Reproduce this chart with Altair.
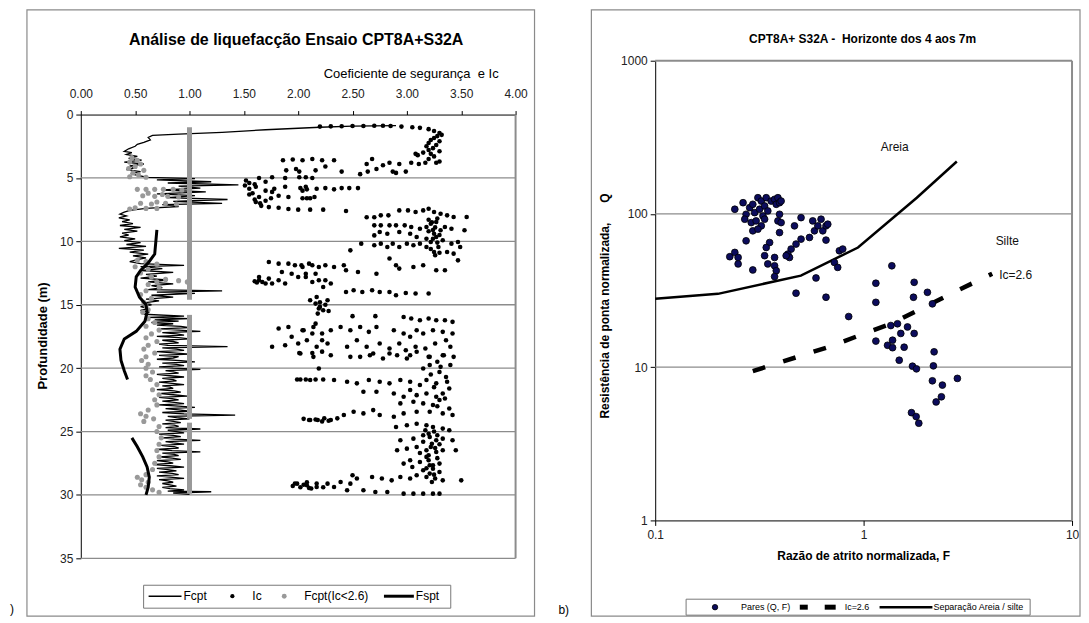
import altair as alt
import pandas as pd

# ---------------- Left panel data (depth m, value) ----------------
fcpt_pairs = [
    (0.87, 2.9), (0.92, 2.5), (1.0, 2.2), (1.2, 1.7), (1.4, 1.3), (1.55, 0.9), (1.65, 0.66),
    (1.8, 0.62), (2.0, 0.64), (2.2, 0.58), (2.35, 0.52), (2.5, 0.50), (2.7, 0.44), (2.9, 0.40),
    (3.0, 0.47), (3.15, 0.42), (3.3, 0.52), (3.45, 0.44), (3.6, 0.56), (3.75, 0.40), (3.9, 0.58),
    (4.05, 0.45), (4.2, 0.50), (4.35, 0.42), (4.5, 0.55), (4.65, 0.46), (4.8, 0.52), (4.95, 0.62),
    (5.05, 1.05), (5.15, 0.7), (5.3, 1.2), (5.4, 0.8), (5.55, 1.45), (5.65, 0.9), (5.8, 1.1),
    (5.95, 0.75), (6.1, 1.15), (6.25, 0.7), (6.4, 1.05), (6.55, 0.8), (6.7, 1.35), (6.85, 0.85),
    (7.0, 1.3), (7.1, 0.75), (7.25, 0.9), (7.4, 0.6), (7.55, 0.45), (7.7, 0.40), (7.85, 0.36),
    (8.0, 0.42), (8.15, 0.35), (8.3, 0.45), (8.45, 0.38), (8.6, 0.48), (8.75, 0.36), (8.9, 0.55),
    (9.05, 0.40), (9.2, 0.52), (9.35, 0.38), (9.5, 0.44), (9.65, 0.36), (9.8, 0.50), (9.95, 0.40),
    (10.1, 0.55), (10.25, 0.42), (10.4, 0.60), (10.55, 0.35), (10.7, 0.58), (10.85, 0.45),
    (11.0, 0.62), (11.15, 0.48), (11.3, 0.60), (11.45, 0.52), (11.6, 0.45), (11.75, 0.55),
    (11.9, 0.95), (12.0, 0.55), (12.15, 0.75), (12.3, 0.55), (12.45, 0.85), (12.6, 0.6),
    (12.75, 0.7), (12.9, 0.55), (13.05, 0.8), (13.2, 0.62), (13.35, 0.85), (13.5, 0.65),
    (13.65, 0.75), (13.8, 0.62), (13.9, 1.3), (14.0, 0.7), (14.1, 1.05), (14.25, 0.65),
    (14.4, 0.85), (14.55, 0.6), (14.7, 0.72), (14.85, 0.58), (15.0, 0.65), (15.15, 0.55),
    (15.3, 0.62), (15.45, 0.55), (15.6, 0.62), (15.75, 0.58), (15.9, 0.95), (16.0, 0.62),
    (16.1, 1.0), (16.2, 0.68), (16.3, 0.9), (16.4, 0.65), (16.5, 0.85), (16.6, 0.7), (16.7, 0.92),
    (16.8, 1.0), (16.9, 0.72), (17.0, 0.9), (17.1, 1.1), (17.2, 0.75), (17.3, 0.88), (17.4, 0.95),
    (17.5, 0.7), (17.6, 0.9), (17.7, 1.0), (17.8, 0.75), (17.9, 0.85), (18.0, 0.9), (18.1, 0.72),
    (18.2, 0.8), (18.3, 1.35), (18.4, 0.75), (18.5, 0.88), (18.6, 0.95), (18.7, 0.7), (18.8, 0.85),
    (18.9, 1.0), (19.0, 0.72), (19.1, 0.9), (19.2, 0.85), (19.3, 0.7), (19.4, 0.92), (19.5, 1.05),
    (19.6, 0.75), (19.7, 0.88), (19.8, 0.95), (19.9, 0.72), (20.0, 0.85), (20.1, 1.1), (20.2, 0.78),
    (20.3, 0.85), (20.4, 0.9), (20.5, 0.7), (20.6, 0.82), (20.7, 0.95), (20.8, 0.75), (20.9, 0.85),
    (21.0, 0.88), (21.1, 0.72), (21.2, 0.84), (21.3, 0.95), (21.4, 0.75), (21.5, 0.82), (21.6, 0.85),
    (21.7, 0.7), (21.8, 0.86), (21.9, 0.92), (22.0, 0.74), (22.1, 0.85), (22.2, 0.98), (22.3, 0.72),
    (22.4, 0.84), (22.5, 0.9), (22.6, 0.75), (22.7, 0.86), (22.8, 0.95), (22.9, 0.72), (23.0, 0.9),
    (23.1, 1.05), (23.2, 0.78), (23.3, 0.9), (23.4, 1.0), (23.5, 0.75), (23.6, 0.95), (23.7, 1.42),
    (23.8, 0.8), (23.9, 0.88), (24.0, 1.0), (24.1, 0.78), (24.2, 0.85), (24.3, 0.92), (24.4, 0.75),
    (24.5, 0.86), (24.6, 0.9), (24.7, 0.78), (24.8, 1.1), (24.9, 0.8), (25.0, 0.88), (25.1, 0.95),
    (25.2, 0.72), (25.3, 0.85), (25.4, 0.92), (25.5, 0.75), (25.6, 0.86), (25.7, 1.1), (25.8, 0.78),
    (25.9, 0.85), (26.0, 0.95), (26.1, 0.74), (26.2, 0.86), (26.3, 0.9), (26.4, 0.7), (26.5, 0.84),
    (26.6, 1.1), (26.7, 0.75), (26.8, 0.86), (26.9, 0.9), (27.0, 0.72), (27.1, 0.84), (27.2, 0.92),
    (27.3, 0.7), (27.4, 0.8), (27.5, 0.85), (27.6, 0.68), (27.7, 0.82), (27.8, 0.95), (27.9, 0.7),
    (28.0, 0.8), (28.1, 0.88), (28.2, 0.72), (28.3, 0.84), (28.4, 0.9), (28.5, 0.7), (28.6, 0.82),
    (28.7, 0.95), (28.8, 0.72), (28.9, 0.8), (29.0, 0.85), (29.1, 0.75), (29.2, 0.82), (29.3, 0.88),
    (29.4, 0.75), (29.5, 0.82), (29.6, 0.95), (29.7, 0.8), (29.75, 1.2), (29.85, 0.85), (29.95, 1.0),
]

ic_pairs = [
    (0.95, 2.2), (0.93, 2.3), (0.92, 2.4), (0.9, 2.5), (0.9, 2.6), (0.88, 2.7), (0.88, 2.78),
    (0.9, 2.85), (0.95, 2.95), (1.0, 3.05), (1.05, 3.12), (1.15, 3.2), (1.3, 3.25), (1.45, 3.3),
    (1.6, 3.32), (1.7, 3.28), (1.85, 3.25), (2.0, 3.22), (2.1, 3.3), (2.25, 3.2), (2.4, 3.27),
    (2.5, 3.18), (2.65, 3.24), (2.8, 3.2), (2.9, 3.3), (3.0, 3.15), (3.1, 3.22), (3.2, 3.1), (3.3, 3.25),
    (3.6, 1.86), (3.55, 1.95), (3.6, 2.04), (3.5, 2.13), (3.6, 2.22), (4.4, 1.89), (4.3, 1.98),
    (4.5, 2.01), (4.4, 2.16), (4.1, 2.25), (4.95, 2.07), (3.6, 2.33), (4.5, 2.4), (4.7, 2.57),
    (3.9, 2.63), (3.5, 2.68), (4.5, 2.64), (4.3, 2.72), (4.0, 2.78), (3.8, 2.84), (4.5, 2.87),
    (3.9, 2.93), (4.5, 2.99), (3.8, 3.04), (3.1, 3.08), (3.9, 3.11), (3.8, 3.17), (3.8, 3.27),
    (4.6, 2.9), (3.5, 3.2), (3.7, 3.3),
    (5.8, 2.02), (5.9, 2.08), (5.8, 2.25), (5.9, 2.33), (5.8, 2.4), (5.8, 2.47), (5.8, 2.55),
    (6.6, 2.04), (6.6, 2.08), (6.6, 2.11), (7.5, 2.0), (7.5, 2.11), (7.5, 2.23), (7.6, 2.44),
    (5.2, 1.52), (5.0, 1.64), (4.95, 1.76), (5.0, 1.88), (4.95, 2.01), (5.0, 2.13), (5.6, 1.51),
    (5.85, 1.55), (5.7, 1.61), (6.2, 1.58), (6.5, 1.64), (6.8, 1.7), (6.9, 1.61), (7.2, 1.66),
    (7.3, 1.73), (7.35, 1.82), (7.45, 1.91), (5.85, 1.78), (6.1, 1.76), (6.4, 1.82), (6.5, 1.91),
    (6.0, 1.7), (6.0, 2.04), (5.7, 2.07), (5.7, 1.88), (6.5, 2.15), (5.85, 2.17), (5.4, 1.55),
    (5.5, 1.6), (6.3, 1.55), (6.7, 1.6), (7.0, 1.65), (5.3, 1.7), (6.6, 1.75),
    (8.1, 2.63), (8.1, 2.7), (7.95, 2.76), (7.95, 2.83), (7.56, 2.93), (7.56, 3.01), (7.69, 3.08),
    (7.56, 3.15), (7.43, 3.2), (7.69, 3.25), (7.83, 3.31), (7.95, 3.37), (8.08, 3.43), (8.08, 3.55),
    (8.74, 2.7), (8.74, 2.76), (8.74, 2.84), (8.74, 2.9), (8.74, 2.98), (8.87, 3.04), (9.0, 3.12),
    (8.87, 3.18), (8.61, 3.22), (8.48, 3.27), (9.13, 3.31), (8.87, 3.35), (9.0, 3.41), (9.13, 3.53),
    (9.4, 3.25), (9.66, 3.27), (9.92, 3.33), (10.44, 3.29), (10.84, 3.37), (10.97, 3.43), (11.5, 3.47),
    (10.84, 3.25), (10.44, 3.18), (10.18, 3.12), (10.31, 3.06), (10.18, 3.0), (10.44, 2.93),
    (10.18, 2.87), (10.44, 2.82), (10.18, 2.76), (10.31, 2.7), (10.18, 2.58), (10.71, 2.48),
    (9.79, 3.18), (10.05, 3.22), (10.18, 3.41), (10.05, 3.47), (10.44, 3.49), (9.66, 3.09),
    (9.4, 3.03), (9.27, 2.93), (9.4, 2.82), (9.27, 2.75), (9.53, 2.7), (8.3, 3.2), (8.5, 3.23),
    (8.9, 3.26), (9.2, 3.2), (9.5, 3.3), (9.8, 3.24), (10.1, 3.28), (10.6, 3.22), (10.9, 3.3),
    (11.1, 3.26), (9.1, 3.24), (8.2, 3.28),
    (11.63, 1.73), (11.76, 1.82), (11.76, 1.91), (11.89, 1.97), (12.02, 2.04), (11.89, 2.13),
    (12.02, 2.19), (13.07, 1.64), (13.2, 1.67), (13.33, 1.7), (12.94, 1.73), (12.81, 1.64),
    (13.33, 1.76), (13.07, 1.82), (13.33, 1.88), (12.55, 1.94), (12.81, 2.0), (12.55, 2.07),
    (13.2, 2.13), (13.07, 2.19), (13.6, 2.23), (12.42, 1.85), (13.15, 1.6), (13.25, 1.62),
    (11.89, 2.03), (11.76, 2.1), (11.89, 2.25), (12.02, 2.33), (11.89, 2.42), (12.28, 2.44),
    (12.42, 2.55), (12.55, 2.72), (11.36, 2.84), (11.89, 2.9), (12.15, 2.93), (12.02, 3.06),
    (11.89, 3.15), (12.28, 3.27), (12.28, 3.35), (12.81, 2.07), (12.55, 2.16), (13.07, 2.25),
    (13.33, 2.3), (14.0, 2.44), (13.86, 2.51), (14.0, 2.59), (13.86, 2.68), (14.0, 2.75),
    (14.0, 2.84), (14.25, 2.9), (14.07, 2.99), (14.12, 3.08), (14.12, 3.2), (14.65, 2.11),
    (14.91, 2.16), (15.17, 2.2), (15.44, 2.23), (14.39, 2.17), (14.65, 2.27), (15.7, 2.18),
    (14.8, 2.2), (15.0, 2.25), (15.3, 2.19), (15.5, 2.28),
    (15.9, 2.5), (15.9, 2.71), (15.96, 2.97), (16.09, 3.04), (16.22, 3.12), (16.09, 3.2),
    (16.22, 3.27), (16.22, 3.35), (16.35, 3.42), (17.01, 2.05), (16.75, 2.14), (17.27, 2.22),
    (17.01, 2.3), (16.75, 2.39), (17.01, 2.48), (16.75, 2.57), (17.14, 2.65), (16.75, 2.72),
    (17.01, 2.88), (17.27, 2.97), (17.53, 3.03), (17.01, 3.09), (17.27, 3.15), (17.01, 3.24),
    (17.14, 3.33), (17.27, 3.42), (17.8, 2.08), (18.32, 2.17), (18.06, 2.27), (18.32, 2.45),
    (17.8, 2.54), (18.32, 2.63), (18.06, 2.75), (18.45, 2.84), (18.06, 2.93), (18.59, 2.99),
    (18.32, 3.08), (18.45, 3.17), (18.06, 3.26), (17.8, 3.36), (18.32, 3.4), (18.85, 2.02),
    (19.11, 2.14), (18.98, 2.3), (19.11, 2.48), (18.98, 2.66), (18.85, 2.84), (18.98, 3.03),
    (19.11, 3.2), (18.98, 3.33), (16.88, 1.82), (16.75, 1.91), (17.01, 2.04), (16.49, 2.16),
    (18.32, 1.76), (18.19, 1.88), (18.06, 2.0), (17.27, 2.13), (17.8, 2.22), (17.53, 1.94),
    (18.8, 2.01), (18.8, 2.13), (18.7, 2.22),
    (19.11, 2.57), (18.85, 2.69), (19.24, 2.78), (18.98, 2.91), (19.24, 3.0), (18.71, 3.09),
    (19.11, 3.21), (18.98, 3.34), (19.11, 3.43), (19.76, 3.4), (19.9, 3.31), (19.76, 3.21),
    (20.03, 3.15), (20.89, 2.02), (20.94, 2.11), (20.89, 2.23), (20.94, 2.33), (21.07, 2.45),
    (21.2, 2.54), (20.94, 2.65), (21.07, 2.75), (21.2, 2.84), (20.94, 2.94), (21.07, 3.03),
    (21.33, 3.12), (20.94, 3.18), (21.2, 3.27), (21.07, 3.37), (21.86, 2.6), (21.86, 2.72),
    (22.0, 2.88), (22.26, 2.97), (21.73, 3.03), (22.13, 3.09), (22.0, 3.18), (22.26, 3.27),
    (22.0, 3.33), (21.6, 3.39), (22.78, 2.94), (22.65, 3.06), (22.78, 3.15), (22.91, 3.24),
    (22.52, 3.3), (23.18, 3.39), (23.7, 3.42), (23.57, 3.33), (23.44, 3.21), (23.44, 3.09),
    (23.57, 2.97), (23.83, 2.88), (23.7, 2.75), (23.31, 2.69), (23.57, 2.6), (23.44, 2.51),
    (23.7, 2.42), (24.09, 2.3), (24.09, 2.18), (24.09, 2.11), (23.96, 2.24), (23.96, 2.36),
    (20.89, 1.99), (20.9, 2.07), (20.9, 2.16), (20.03, 2.19), (24.09, 2.1), (24.05, 2.16),
    (24.2, 2.22), (24.0, 2.05), (24.15, 2.28), (20.3, 3.3), (20.5, 3.22), (20.7, 3.36),
    (21.5, 3.25), (22.4, 3.35), (23.0, 3.28), (19.5, 3.28),
    (24.64, 2.9), (24.51, 3.0), (24.38, 3.09), (24.51, 3.18), (24.64, 3.24), (24.77, 3.33),
    (24.9, 3.39), (25.69, 2.94), (25.56, 3.06), (25.3, 3.15), (25.43, 3.21), (25.69, 3.27),
    (25.56, 3.33), (25.69, 3.42), (26.48, 2.91), (26.35, 3.0), (26.22, 3.09), (26.48, 3.18),
    (26.22, 3.22), (26.61, 3.27), (26.48, 3.33), (26.48, 3.45), (27.53, 2.97), (27.27, 3.03),
    (27.4, 3.12), (27.27, 3.2), (27.66, 3.24), (27.53, 3.3), (28.06, 3.15), (28.32, 3.21),
    (27.93, 3.24), (28.19, 3.3), (28.45, 3.09), (28.58, 3.18), (28.71, 3.26), (27.8, 3.05),
    (26.87, 3.2), (24.9, 3.17), (25.17, 3.2), (25.96, 3.23), (27.0, 3.18), (27.66, 3.21),
    (28.98, 3.23), (28.85, 3.5), (28.71, 2.77), (28.85, 2.86), (28.58, 2.94), (28.71, 3.03),
    (28.85, 3.33), (25.0, 3.25), (25.8, 3.15), (26.0, 3.3), (26.7, 3.12), (27.1, 3.28),
    (27.9, 3.18), (28.4, 3.25), (26.3, 3.26), (25.3, 3.28),
    (29.11, 1.99), (29.24, 2.08), (29.37, 2.17), (29.11, 2.27), (29.37, 2.33), (29.63, 2.45),
    (28.45, 2.5), (28.71, 2.54), (29.63, 2.6), (28.58, 2.68), (29.77, 2.71), (29.77, 2.82),
    (29.9, 2.97), (29.9, 3.06), (29.9, 3.15), (29.9, 3.24), (29.9, 3.3), (29.11, 2.48),
    (28.98, 2.39), (29.1, 1.97), (29.4, 2.02), (29.0, 2.08), (29.5, 2.12), (29.1, 2.17),
    (29.4, 2.23), (29.3, 1.95), (29.2, 2.05), (29.45, 2.1),
]

gray_pairs = [
    (3.4, 0.47), (3.6, 0.52), (3.75, 0.45), (3.9, 0.55), (4.1, 0.5), (4.25, 0.44), (4.4, 0.58),
    (4.6, 0.48), (4.75, 0.53), (4.9, 0.45), (4.95, 0.6),
    (5.9, 0.52), (5.9, 0.6), (5.9, 0.68), (5.9, 0.76), (5.9, 0.85), (5.95, 0.93), (6.2, 0.62),
    (6.3, 0.75), (6.4, 0.57), (6.45, 0.68), (6.45, 0.8), (6.5, 0.9), (6.9, 0.7), (7.0, 0.55),
    (7.05, 0.65), (7.0, 0.78), (7.05, 0.88), (7.35, 0.5), (7.4, 0.6), (7.4, 0.7), (7.45, 0.45),
    (11.5, 0.52), (11.6, 0.6), (11.8, 0.7), (12.0, 0.5), (12.2, 0.62), (12.5, 0.55), (12.8, 0.65),
    (13.0, 0.78), (13.1, 0.9), (13.2, 0.98), (13.2, 0.7), (13.4, 0.62), (13.6, 0.72), (13.9, 0.6),
    (14.2, 0.55), (14.5, 0.65), (14.8, 0.58), (15.1, 0.6), (15.4, 0.62), (15.6, 0.57),
    (16.1, 0.62), (16.4, 0.68), (16.7, 0.6), (17.0, 0.72), (17.3, 0.65), (17.6, 0.6), (17.9, 0.7),
    (18.2, 0.62), (18.5, 0.58), (18.8, 0.68), (19.1, 0.6), (19.4, 0.56), (19.7, 0.62), (20.0, 0.6),
    (20.3, 0.66), (20.6, 0.6), (20.9, 0.64), (21.3, 0.7), (21.7, 0.66), (22.1, 0.72), (22.5, 0.68),
    (22.9, 0.7), (23.3, 0.62), (23.6, 0.55), (23.8, 0.6), (24.0, 0.67), (24.2, 0.58), (24.6, 0.72),
    (25.0, 0.7), (25.5, 0.74), (26.0, 0.72), (26.5, 0.7), (27.0, 0.72), (27.5, 0.68), (28.0, 0.66),
    (28.4, 0.6), (28.6, 0.52), (28.8, 0.56), (29.0, 0.62), (29.2, 0.55), (29.4, 0.6), (29.6, 0.66),
    (29.8, 0.72),
]

# Fcpt(Ic<2.6) values sitting on FS = 1.00 (depth intervals)
cap_top = [1.0, 15.8, 24.3]
cap_bottom = [14.6, 24.0, 29.9]
cap_value = [1.0, 1.0, 1.0]

fspt_seg1 = [(9.1, 0.70), (11.0, 0.68), (11.7, 0.62), (12.3, 0.55), (12.8, 0.51), (13.6, 0.50),
             (14.4, 0.54), (15.0, 0.60), (15.6, 0.61), (16.3, 0.59), (17.1, 0.51), (17.7, 0.40),
             (18.5, 0.36), (19.4, 0.37), (20.2, 0.40), (20.9, 0.43)]
fspt_seg2 = [(25.5, 0.47), (26.2, 0.52), (27.0, 0.57), (27.8, 0.61), (28.6, 0.63), (29.4, 0.62),
             (30.0, 0.60)]

depth_ticks = [0, 5, 10, 15, 20, 25, 30, 35]
depth_grid = [5, 10, 15, 20, 25, 30, 35]
fs_ticks = [0, 0.5, 1.0, 1.5, 2.0, 2.5, 3.0, 3.5, 4.0]

# ---------------- Right panel data (F, Q) ----------------
pares_pairs = [
    (0.241, 107.3), (0.264, 118.4), (0.273, 99.5), (0.284, 109.9), (0.294, 115.6), (0.300, 102.0),
    (0.311, 127.6), (0.317, 107.3), (0.323, 121.4), (0.329, 97.0), (0.335, 112.7), (0.341, 127.6),
    (0.347, 104.6), (0.360, 121.4), (0.374, 124.6), (0.381, 115.6), (0.388, 127.6), (0.395, 118.4),
    (0.402, 121.4), (0.269, 92.4), (0.289, 87.8), (0.305, 90.1), (0.323, 83.6), (0.335, 92.4),
    (0.294, 77.6), (0.311, 79.6), (0.388, 90.1), (0.395, 99.5), (0.402, 87.8), (0.466, 83.6),
    (0.501, 94.6), (0.570, 90.1), (0.581, 77.6), (0.603, 83.6), (0.625, 92.4), (0.637, 77.6),
    (0.660, 83.6), (0.673, 85.7), (0.550, 70.2), (0.501, 68.5), (0.474, 63.6), (0.449, 59.0),
    (0.433, 54.7), (0.441, 52.0), (0.425, 53.4), (0.395, 75.6), (0.354, 65.1), (0.341, 60.4),
    (0.335, 53.4), (0.347, 47.2), (0.374, 52.0), (0.374, 45.9), (0.381, 42.6), (0.374, 39.0),
    (0.273, 66.8), (0.294, 43.1), (0.228, 52.6), (0.241, 56.1), (0.250, 52.0), (0.250, 47.2),
    (0.660, 67.5), (0.765, 57.5), (0.794, 59.0), (0.724, 48.3), (0.751, 44.8), (0.591, 38.2),
    (0.474, 30.4), (0.660, 28.6), (0.848, 21.4), (1.145, 35.3), (1.145, 26.5), (1.366, 45.9),
    (1.748, 35.8), (1.735, 28.6), (1.351, 18.7), (1.454, 19.2), (1.508, 16.6), (1.624, 18.3),
    (1.748, 16.6), (1.145, 14.8), (1.303, 13.9), (1.377, 15.0), (1.565, 13.5), (2.024, 30.8),
    (2.138, 25.9), (1.377, 13.4), (1.482, 11.1), (2.179, 12.6), (2.162, 10.2), (1.716, 10.15),
    (1.793, 9.75), (2.138, 8.15), (2.388, 7.64), (2.818, 8.45), (2.362, 6.41), (2.228, 5.93),
    (1.697, 5.05), (1.787, 4.76), (1.840, 4.31),
]
sep_f = [0.1, 0.2, 0.5, 0.94, 1.8, 2.8]
sep_q = [28.0, 30.1, 39.6, 60.4, 127.6, 220.0]
ic26_f = [0.294, 0.673, 1.351, 2.818, 4.14]
ic26_q = [9.42, 13.5, 19.2, 31.6, 40.7]
q_ticks = [1, 10, 100, 1000]
f_ticks = [0.1, 1, 10]
q_grid = [10, 100]
zone_f = [1.41, 4.89]
zone_q = [275.0, 66.8]
zone_t = ["Areia", "Silte"]

FONT = "Liberation Sans"
NB = "\u00a0"

# ---------------- Left panel ----------------
L_x = alt.Scale(domain=[0, 4], range=[73, 509], zero=False, nice=False)
L_y = alt.Scale(domain=[0, 35], range=[106, 551], zero=False, nice=False)
axLx = alt.Axis(orient="top", offset=-106, values=fs_ticks, format=".2f", title=None, grid=False,
                labelFontSize=12, labelColor="#222", labelFont=FONT, tickColor="#000", domainColor="#000",
                tickSize=4, labelPadding=10, labelOverlap=False, labelFlush=False)
axLy = alt.Axis(orient="left", offset=-73, values=depth_ticks, title=None, grid=False,
                labelFontSize=12, labelColor="#222", labelFont=FONT, tickColor="#000", domainColor="#000",
                tickSize=5, labelPadding=3, labelOverlap=False, labelFlush=False)


def LX(f="x"):
    return alt.X(f"{f}:Q", scale=L_x, axis=axLx)


def LY(f="y"):
    return alt.Y(f"{f}:Q", scale=L_y, axis=axLy)


df_fcpt = pd.DataFrame({"y": [p[0] for p in fcpt_pairs], "x": [p[1] for p in fcpt_pairs],
                        "i": list(range(len(fcpt_pairs)))})
df_ic = pd.DataFrame({"y": [p[0] for p in ic_pairs], "x": [p[1] for p in ic_pairs]})
df_gray = pd.DataFrame({"y": [p[0] for p in gray_pairs], "x": [p[1] for p in gray_pairs]})
df_cap = pd.DataFrame({"x": cap_value, "y": cap_top, "y2": cap_bottom})
fs_rows = [(d, v, 1) for d, v in fspt_seg1] + [(d, v, 2) for d, v in fspt_seg2]
df_fspt = pd.DataFrame({"y": [r[0] for r in fs_rows], "x": [r[1] for r in fs_rows],
                        "seg": [r[2] for r in fs_rows], "i": list(range(len(fs_rows)))})
df_lgrid = pd.DataFrame({"y": depth_grid, "x": [0] * len(depth_grid), "x2": [4] * len(depth_grid)})
df_lright = pd.DataFrame({"x": [4], "y": [0], "y2": [35]})

l_grid = alt.Chart(df_lgrid).mark_rule(color="#8c8c8c", strokeWidth=1.3).encode(x=LX(), x2="x2:Q", y=LY())
l_right = alt.Chart(df_lright).mark_rule(color="#8c8c8c", strokeWidth=2).encode(x=LX(), y=LY(), y2="y2:Q")
l_fcpt = alt.Chart(df_fcpt).mark_line(color="#000", strokeWidth=1.3).encode(x=LX(), y=LY(), order="i:Q")
l_ic = alt.Chart(df_ic).mark_circle(color="#000", size=21, opacity=1).encode(x=LX(), y=LY())
l_gray = alt.Chart(df_gray).mark_circle(color="#999", size=26, opacity=1).encode(x=LX(), y=LY())
l_cap = alt.Chart(df_cap).mark_rule(color="#999", strokeWidth=5).encode(x=LX(), y=LY(), y2="y2:Q")
l_fspt = alt.Chart(df_fspt).mark_line(color="#000", strokeWidth=3).encode(
    x=LX(), y=LY(), detail="seg:N", order="i:Q")

left = alt.layer(l_grid, l_right, l_fcpt, l_ic, l_gray, l_cap, l_fspt)

# ---------------- Right panel ----------------
H = 611
R_x = alt.Scale(type="log", domain=[0.1, 10], range=[649, 1067], nice=False)
R_y = alt.Scale(type="log", domain=[1, 1000], range=[513, 52], nice=False)
axRx = alt.Axis(orient="bottom", offset=-(H - 513), values=f_ticks, format="~g", title=None, grid=False,
                labelFontSize=12, labelColor="#222", labelFont=FONT, tickColor="#000", domainColor="#000",
                tickSize=5, labelPadding=4, labelOverlap=False, labelFlush=False)
axRy = alt.Axis(orient="left", offset=-649, values=q_ticks, format="~g", title=None, grid=False,
                labelFontSize=12, labelColor="#222", labelFont=FONT, tickColor="#000", domainColor="#000",
                tickSize=5, labelPadding=3, labelOverlap=False, labelFlush=False)


def RX(f="x"):
    return alt.X(f"{f}:Q", scale=R_x, axis=axRx)


def RY(f="y"):
    return alt.Y(f"{f}:Q", scale=R_y, axis=axRy)


df_pares = pd.DataFrame({"x": [p[0] for p in pares_pairs], "y": [p[1] for p in pares_pairs]})
df_sep = pd.DataFrame({"x": sep_f, "y": sep_q, "i": list(range(len(sep_f)))})
df_ic26 = pd.DataFrame({"x": ic26_f, "y": ic26_q, "i": list(range(len(ic26_f)))})
df_rgrid = pd.DataFrame({"y": q_grid, "x": [0.1] * len(q_grid), "x2": [10] * len(q_grid)})
df_rtop = pd.DataFrame({"y": [1000], "x": [0.1], "x2": [10]})
df_rright = pd.DataFrame({"x": [10], "y": [1], "y2": [1000]})
df_rlabels = pd.DataFrame({"x": zone_f, "y": zone_q, "t": zone_t})
df_iclab = pd.DataFrame({"x": [4.47], "y": [40.0], "t": ["Ic=2.6"]})

r_grid = alt.Chart(df_rgrid).mark_rule(color="#8c8c8c", strokeWidth=1.3).encode(x=RX(), x2="x2:Q", y=RY())
r_top = alt.Chart(df_rtop).mark_rule(color="#8c8c8c", strokeWidth=2).encode(x=RX(), x2="x2:Q", y=RY())
r_right = alt.Chart(df_rright).mark_rule(color="#8c8c8c", strokeWidth=2).encode(x=RX(), y=RY(), y2="y2:Q")
r_sep = alt.Chart(df_sep).mark_line(color="#000", strokeWidth=2.5).encode(x=RX(), y=RY(), order="i:Q")
r_ic26 = alt.Chart(df_ic26).mark_line(color="#000", strokeWidth=4.5, strokeDash=[13, 19], strokeCap="butt").encode(
    x=RX(), y=RY(), order="i:Q")
r_pts = alt.Chart(df_pares).mark_point(shape="circle", filled=True, fill="#0c0c5c", stroke="#000",
                                       strokeWidth=0.8, size=46, opacity=1).encode(x=RX(), y=RY())
r_lab = alt.Chart(df_rlabels).mark_text(fontSize=12, font=FONT, color="#111").encode(x=RX(), y=RY(), text="t:N")
r_iclab = alt.Chart(df_iclab).mark_text(fontSize=12, font=FONT, color="#111", align="left").encode(
    x=RX(), y=RY(), text="t:N")

right = alt.layer(r_grid, r_top, r_right, r_sep, r_ic26, r_pts, r_lab, r_iclab)

# ---------------- Frames, titles, legends ----------------
one = pd.DataFrame({"k": [0]})


def txt(s, x, y, size=12, weight="normal", align="left", angle=0, color="#000"):
    return alt.Chart(one).mark_text(text=s, fontSize=size, fontWeight=weight, align=align, baseline="middle",
                                    angle=angle, color=color, font=FONT).encode(x=alt.value(x), y=alt.value(y))


def box(x1, x2, y1, y2, color="#8a8a8a", w=1.2):
    return alt.Chart(one).mark_rect(fill="transparent", stroke=color, strokeWidth=w).encode(
        x=alt.value(x1), x2=alt.value(x2), y=alt.value(y1), y2=alt.value(y2))


def hline(x1, x2, y, w=1.5, color="#000"):
    return alt.Chart(one).mark_rule(color=color, strokeWidth=w).encode(
        x=alt.value(x1), x2=alt.value(x2), y=alt.value(y))


def dot(x, y, color, size, stroke=None):
    kw = {"fill": color, "size": size, "opacity": 1, "filled": True, "shape": "circle"}
    if stroke:
        kw["stroke"] = stroke
        kw["strokeWidth"] = 0.8
    return alt.Chart(one).mark_point(**kw).encode(x=alt.value(x), y=alt.value(y))


deco = [
    box(19, 528, 1, 609),
    box(585, 1075, 1, 609),
    txt("Análise de liquefacção Ensaio CPT8A+S32A", 289, 31, size=16, weight="bold", align="center"),
    txt("Coeficiente de segurança" + NB + NB + "e Ic", 492, 65, size=13, align="right"),
    txt("Profundidade (m)", 35, 328, size=13, weight="bold", align="center", angle=270),
    txt(")", 2, 602, size=12),
    # left legend
    box(136, 444, 578, 601, color="#777", w=1),
    hline(141, 174, 589, w=1.5),
    txt("Fcpt", 176, 589, size=12),
    dot(225, 589, "#000", 18),
    txt("Ic", 245, 589, size=12),
    dot(277, 589, "#999", 24),
    txt("Fcpt(Ic<2.6)", 297, 589, size=12),
    hline(377, 407, 589, w=3),
    txt("Fspt", 409, 589, size=12),
    # right panel titles
    txt("CPT8A+ S32A -" + NB + NB + "Horizonte dos 4 aos 7m", 857, 30, size=12, weight="bold", align="center"),
    txt("Resistência de ponta normalizada," + NB * 6 + "Q", 599, 298, size=12, weight="bold", align="center",
        angle=270),
    txt("Razão de atrito normalizada, F", 858, 549, size=12, weight="bold", align="center"),
    txt("b)", 552, 603, size=12),
    # right legend
    box(680, 1025, 592, 608, color="#777", w=1),
    dot(709, 600, "#0c0c5c", 30, stroke="#000"),
    txt("Pares (Q, F)", 735, 600, size=9),
    hline(794, 802, 600, w=5),
    hline(819, 830, 600, w=5),
    txt("Ic=2.6", 839, 600, size=9),
    hline(874, 927, 600, w=2.5),
    txt("Separação Areia / silte", 928, 600, size=9),
]

chart = alt.layer(alt.layer(*deco), left, right).resolve_scale(
    x="independent", y="independent"
).properties(
    width=1076, height=H, padding=0, autosize=alt.AutoSizeParams(type="none"),
    background="white"
).configure_view(stroke=None).configure_text(font=FONT)

chart.save("out.html", embed_options={"renderer": "svg", "actions": False})
